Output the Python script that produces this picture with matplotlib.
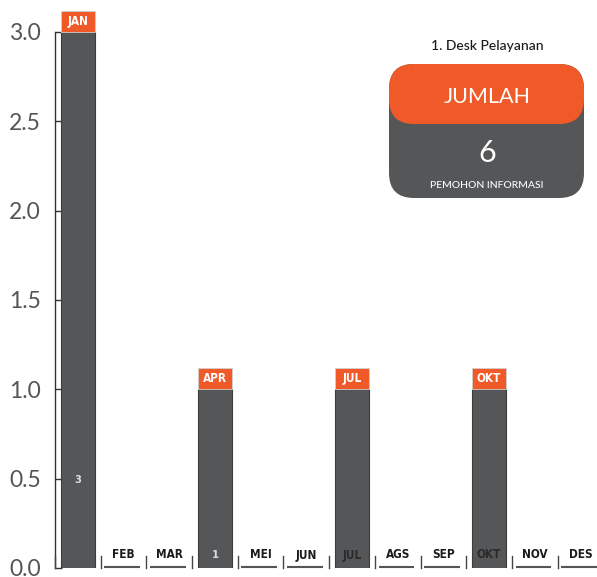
import matplotlib.pyplot as plt
from matplotlib.patches import FancyBboxPatch

# data
months = ['JAN', 'FEB', 'MAR', 'APR', 'MEI', 'JUN', 'JUL', 'AGS', 'SEP', 'OKT', 'NOV', 'DES']
values = [3, 0, 0, 1, 0, 0, 1, 0, 0, 1, 0, 0]
total = sum(values)
title = '1. Desk Pelayanan'

orange = '#f05a28'
grey = '#555658'
narrow = dict(family='DejaVu Sans', fontstretch='condensed', fontweight='bold')

fig = plt.figure(figsize=(5.97, 5.77), dpi=100)
ax = fig.add_axes([55 / 597, 9 / 577, 542 / 597, 536 / 577])

x = list(range(len(months)))
ax.bar(x, values, width=0.75, color=grey, edgecolor='#3c3c3c', linewidth=0.8, zorder=2)

ax.set_xlim(-0.5, 11.36)
ax.set_ylim(0, 3.0)
ax.set_yticks([0, 0.5, 1.0, 1.5, 2.0, 2.5, 3.0])
ax.set_yticklabels(['0.0', '0.5', '1.0', '1.5', '2.0', '2.5', '3.0'])
ax.tick_params(axis='y', direction='in', length=5, width=1, color='#333333',
               labelcolor='#555555', labelsize=16.5, pad=10)
for lab in ax.get_yticklabels():
    lab.set_family(['Lato', 'DejaVu Sans'])
ax.set_xticks([])
for s in ['top', 'right', 'bottom']:
    ax.spines[s].set_visible(False)
ax.spines['left'].set_color('#333333')
ax.spines['left'].set_linewidth(1)

# one px in data units
py = 3.0 / 536

for i, (m, v) in enumerate(zip(months, values)):
    # slot divider and underline
    ax.plot([i - 0.5, i - 0.5], [0, 12 * py], color='#444444', lw=1, clip_on=False, zorder=3)
    if v > 0:
        # orange month tag above the bar
        ax.bar(i, 21 * py, bottom=v, width=0.75, color=orange, edgecolor='#d0d0d0',
               linewidth=0.6, clip_on=False, zorder=3)
        ax.text(i, v + 10.5 * py, m, ha='center', va='center', color='white',
                fontsize=8.5, clip_on=False, zorder=4, **narrow)
    else:
        ax.plot([i - 0.42, i + 0.36], [1 * py, 1 * py], color='#555555', lw=1.5,
                clip_on=False, zorder=3, solid_capstyle='butt')

    if m == 'JAN':
        ax.text(i, 0.49, str(v), ha='center', va='center', color='#dddddd',
                fontsize=8, zorder=4, **narrow)
    elif m == 'APR':
        ax.text(i, 13 * py, str(v), ha='center', va='center', color='#dddddd',
                fontsize=8, zorder=4, **narrow)
    else:
        ax.text(i, 13 * py, m, ha='center', va='center',
                color='#2a2a2a' if v > 0 else '#1a1a1a',
                fontsize=8.5, zorder=4, **narrow)

# summary box (in pixel coords of the figure)
ov = fig.add_axes([0, 0, 1, 1], zorder=5)
ov.set_xlim(0, 597)
ov.set_ylim(577, 0)
ov.axis('off')
ov.patch.set_alpha(0)

ov.text(487, 46, title, ha='center', va='center', fontsize=10,
        color='#1a1a1a', family=['Lato', 'DejaVu Sans'], fontweight='medium')
ov.add_patch(FancyBboxPatch((389 + 25, 64 + 25), 195 - 50, 134 - 50,
                            boxstyle='round,pad=25', fc=grey, ec='none'))
ov.add_patch(FancyBboxPatch((389 + 25, 64 + 25), 195 - 50, 60 - 50,
                            boxstyle='round,pad=25', fc=orange, ec='none'))
ov.text(487, 97, 'JUMLAH', ha='center', va='center', fontsize=15.5,
        color='white', family=['Lato', 'DejaVu Sans'])
ov.text(487, 153, str(total), ha='center', va='center', fontsize=22,
        color='white', family=['Lato', 'DejaVu Sans'])
ov.text(487, 185, 'PEMOHON INFORMASI', ha='center', va='center', fontsize=7.5,
        color='white', family=['Lato', 'DejaVu Sans'], fontweight='medium')

fig.savefig('out.png', dpi=100)
